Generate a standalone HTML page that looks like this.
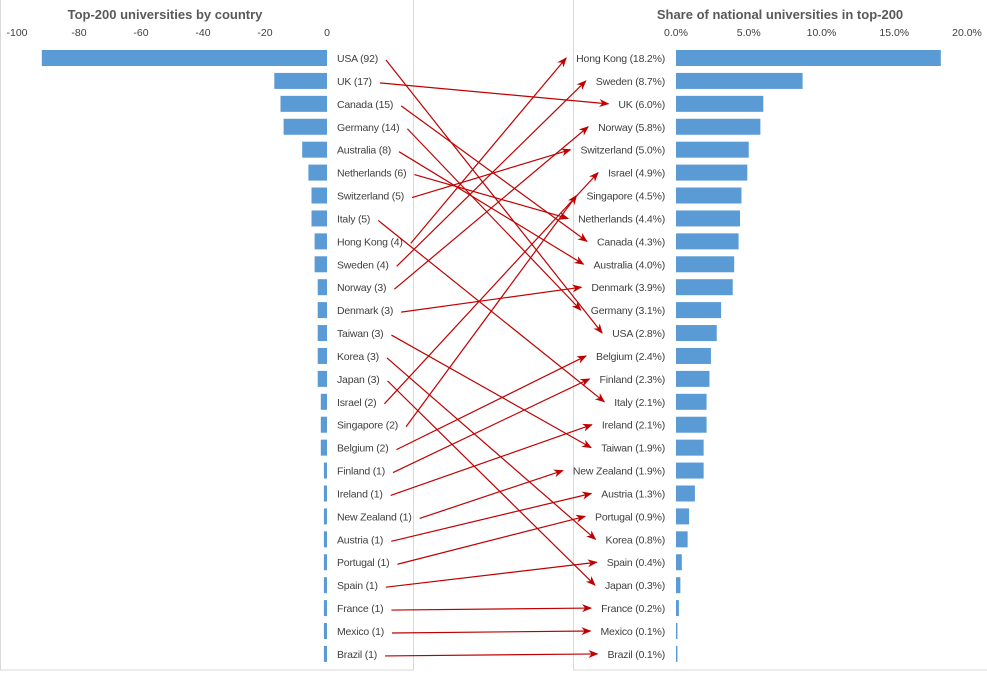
<!DOCTYPE html>
<html><head><meta charset="utf-8"><style>
body{margin:0;background:#fff;font-family:"Liberation Sans",sans-serif}
svg text{font-family:"Liberation Sans",sans-serif;fill:#404040}
</style></head><body>
<svg id="c" width="987" height="672" xmlns="http://www.w3.org/2000/svg">
<defs><marker id="ah" markerWidth="10" markerHeight="8" refX="9" refY="4" orient="auto" markerUnits="userSpaceOnUse"><path d="M0,0 L10,4 L0,8 L3,4 Z" fill="#c00000"/></marker></defs>
<rect x="0.5" y="-1" width="413" height="671" fill="#fff" stroke="#d9d9d9"/>
<rect x="573.5" y="-1" width="420" height="671" fill="#fff" stroke="#d9d9d9"/>
<text x="165" y="19" text-anchor="middle" font-size="13" font-weight="bold" style="fill:#595959">Top-200 universities by country</text>
<text x="780" y="19" text-anchor="middle" font-size="13" font-weight="bold" style="fill:#595959">Share of national universities in top-200</text>
<g id="g"></g>
</svg>
<script>
const leftCountries=["USA","UK","Canada","Germany","Australia","Netherlands","Switzerland","Italy","Hong Kong","Sweden","Norway","Denmark","Taiwan","Korea","Japan","Israel","Singapore","Belgium","Finland","Ireland","New Zealand","Austria","Portugal","Spain","France","Mexico","Brazil"];
const leftValues=[92,17,15,14,8,6,5,5,4,4,3,3,3,3,3,2,2,2,1,1,1,1,1,1,1,1,1];
const rightCountries=["Hong Kong","Sweden","UK","Norway","Switzerland","Israel","Singapore","Netherlands","Canada","Australia","Denmark","Germany","USA","Belgium","Finland","Italy","Ireland","Taiwan","New Zealand","Austria","Portugal","Korea","Spain","Japan","France","Mexico","Brazil"];
const rightValues=[18.2,8.7,6.0,5.8,5.0,4.9,4.5,4.4,4.3,4.0,3.9,3.1,2.8,2.4,2.3,2.1,2.1,1.9,1.9,1.3,0.9,0.8,0.4,0.3,0.2,0.1,0.1];
const leftTicks=[-100,-80,-60,-40,-20,0];
const rightTicks=[0,5,10,15,20];
const NS="http://www.w3.org/2000/svg",g=document.getElementById('g');
const xL=v=>327+v*3.1, xR=v=>676+v*14.55, yRow=i=>58+i*22.92;
function el(t,a,txt){const e=document.createElementNS(NS,t);for(const k in a)e.setAttribute(k,a[k]);if(txt!=null)e.textContent=txt;g.appendChild(e);return e;}
leftTicks.forEach(t=>{const e=el('text',{x:xL(t),y:36,'text-anchor':'middle','font-size':10.5},String(t));

});
rightTicks.forEach(t=>{const e=el('text',{x:xR(t),y:36,'text-anchor':'middle','font-size':10.5},t.toFixed(1)+'%');

});
const lt=[],rt=[];
leftCountries.forEach((c,i)=>{const y=yRow(i);
const b=el('rect',{x:xL(-leftValues[i]),y:y-8,width:leftValues[i]*3.1,height:16,fill:'#5b9bd5'});


const t=el('text',{x:337,y:y+4,'font-size':10.5,'letter-spacing':'-0.2'},c+' ('+leftValues[i]+')');

lt.push(t);});
rightCountries.forEach((c,i)=>{const y=yRow(i);
const b=el('rect',{x:676,y:y-8,width:rightValues[i]*14.55,height:16,fill:'#5b9bd5'});


const t=el('text',{x:665,y:y+4,'font-size':10.5,'letter-spacing':'-0.2','text-anchor':'end'},c+' ('+rightValues[i].toFixed(1)+'%)');

rt.push(t);});
leftCountries.forEach((c,i)=>{const j=rightCountries.indexOf(c);if(j<0)return;
const x1=lt[i].getBBox().x+lt[i].getBBox().width+8,x2=rt[j].getBBox().x-10;
const a=el('line',{x1:x1,y1:yRow(i)+2,x2:x2,y2:yRow(j),stroke:'#c00000','stroke-width':1.2,'marker-end':'url(#ah)'});

});
</script>
</body></html>
